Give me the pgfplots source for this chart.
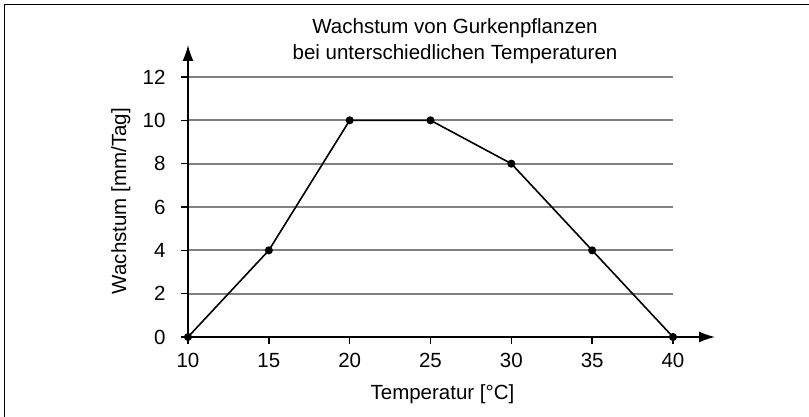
\documentclass[border=0pt]{standalone}
\usepackage{fontspec}
\setmainfont{Liberation Sans}
\usepackage{pgfplots}
\pgfplotsset{compat=1.18}
\usetikzlibrary{arrows.meta}
\begin{document}
\begin{tikzpicture}[x=1pt,y=1pt]
\useasboundingbox (0,0) rectangle (809,417);
\draw[line width=1.6pt] (4.5,-20) rectangle (840,412.5);
\begin{axis}[
  at={(188pt,80pt)}, anchor=south west,
  width=485pt, height=260pt, scale only axis,
  xmin=10, xmax=40, ymin=0, ymax=12,
  enlargelimits=false,
  axis lines=left,
  x axis line style={line width=1.4pt, -{Latex[length=16pt,width=11pt]}, shorten >=-42pt},
  y axis line style={line width=1.4pt, -{Latex[length=16pt,width=11pt]}, shorten >=-32pt},
  xtick={10,15,20,25,30,35,40},
  ytick={0,2,4,6,8,10,12},
  tick align=outside,
  major tick length=7pt,
  tick style={black, line width=1.4pt},
  ymajorgrids,
  grid style={gray, line width=1.7pt},
  font=\fontsize{20.5}{25}\selectfont,
  /pgf/number format/assume math mode=true,
  xticklabel style={yshift=-6pt},
  yticklabel style={xshift=-12pt},
  title={Wachstum von Gurkenpflanzen\\bei unterschiedlichen Temperaturen},
  title style={at={(rel axis cs:0.5505,1.027)}, anchor=south, inner sep=0pt, align=center, font=\fontsize{20.5}{26}\selectfont},
  xlabel={Temperatur [°C]},
  xlabel style={at={(rel axis cs:0.5247,-0.2385)}, anchor=base, inner sep=0pt},
  ylabel={Wachstum [mm/Tag]},
  ylabel style={at={(rel axis cs:-0.1278,0.523)}, anchor=base, rotate=0, inner sep=0pt},
]
\addplot[black, line width=1.6pt, mark=*, mark size=3.2pt] coordinates {
  (10,0) (15,4) (20,10) (25,10) (30,8) (35,4) (40,0)
};
\end{axis}
\end{tikzpicture}
\end{document}
